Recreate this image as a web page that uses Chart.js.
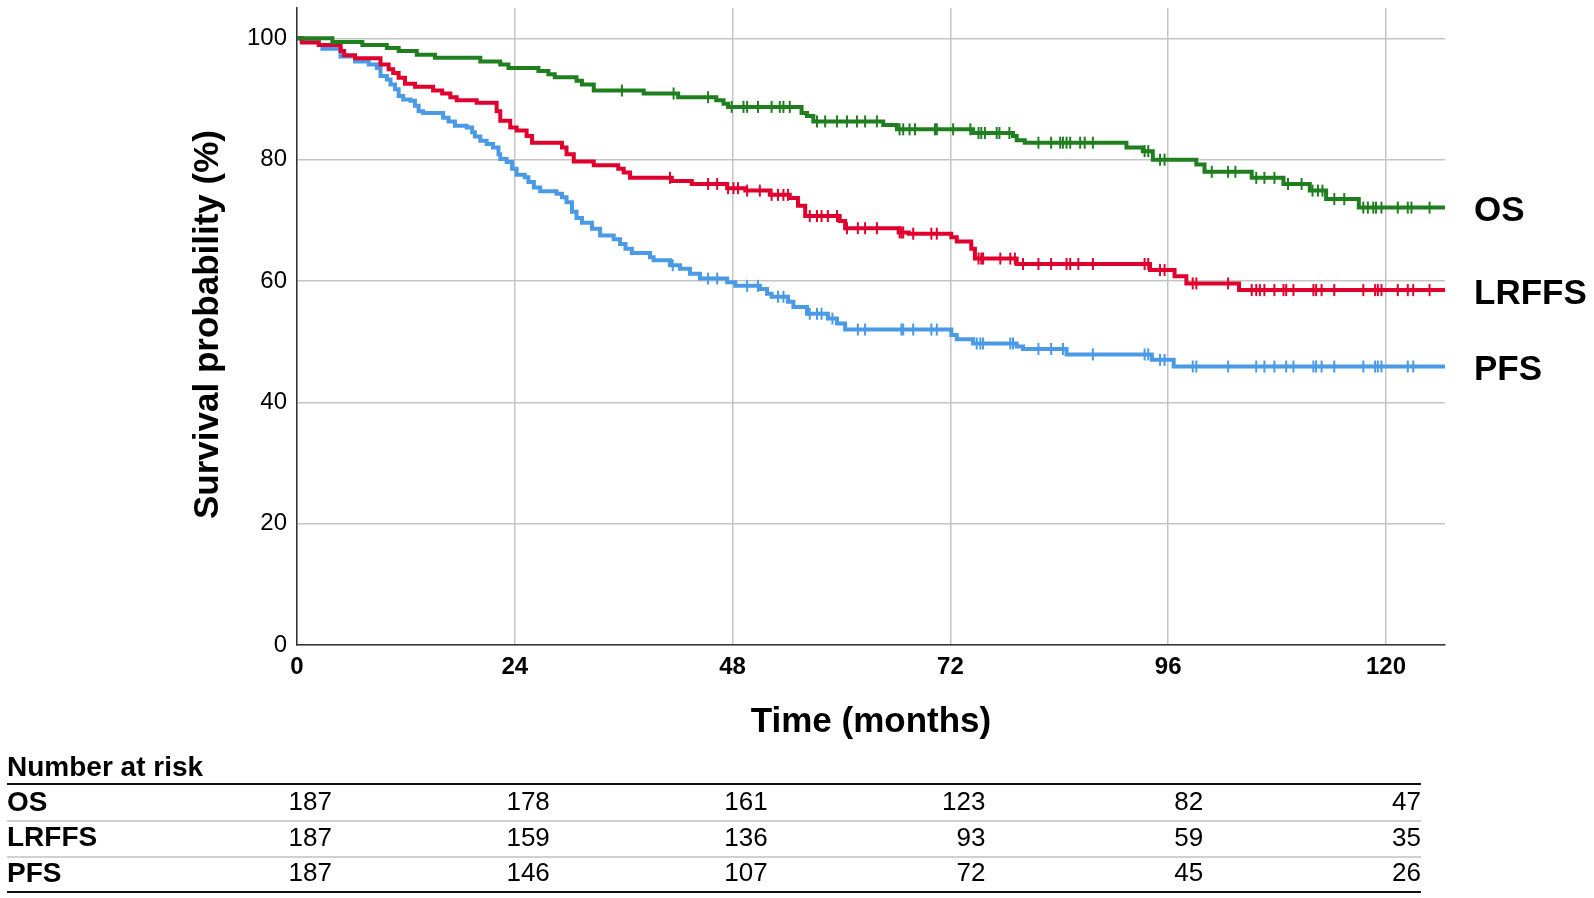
<!DOCTYPE html>
<html>
<head>
<meta charset="utf-8">
<script src="https://cdn.jsdelivr.net/npm/chart.js@4.4.1/dist/chart.umd.min.js"></script>
<style>
  html, body { margin: 0; padding: 0; background: #fff; }
</style>
</head>
<body>
<canvas id="km" width="1594" height="898"></canvas>
<script>
// step points: time (months) and survival (%) after each drop
const osTime = [0, 3.9, 7.2, 9.9, 11.2, 13.2, 15.2, 20.2, 22.4, 23.3, 26.6, 27.7, 28.4, 30.8, 31.4, 32.7, 38.2, 42.0, 46.2, 47.0, 47.5, 55.6, 56.2, 56.9, 64.6, 66.1, 74.5, 78.9, 79.3, 80.2, 91.4, 93.2, 94.3, 99.1, 100.0, 105.2, 108.7, 111.6, 113.4, 117.0, 126.5];
const osSurv = [100, 99.4, 98.9, 98.4, 97.9, 97.3, 96.8, 96.2, 95.7, 95.1, 94.6, 94.1, 93.6, 93.0, 92.4, 91.4, 90.9, 90.3, 89.8, 89.2, 88.7, 87.7, 87.2, 86.3, 85.7, 85.0, 84.4, 83.9, 83.2, 82.8, 82.0, 81.4, 80.0, 79.2, 78.0, 77.0, 76.0, 74.9, 73.5, 72.1, 72.1];
const osCensor = [35.8, 41.5, 45.3, 47.9, 49.2, 49.6, 50.8, 52.3, 53.2, 53.6, 54.3, 57.3, 58.2, 59.5, 60.6, 61.7, 62.6, 63.9, 66.4, 66.8, 67.5, 68.1, 70.3, 70.5, 72.3, 74.2, 75.1, 75.4, 75.8, 77.1, 77.4, 78.5, 81.7, 83.1, 84.1, 84.4, 84.8, 85.2, 86.3, 86.8, 87.7, 93.4, 93.8, 95.1, 95.6, 100.8, 102.6, 103.4, 105.7, 106.6, 107.7, 109.2, 110.7, 111.9, 112.5, 113.0, 114.3, 115.4, 117.5, 118.0, 118.6, 118.9, 119.5, 121.3, 122.4, 122.8, 124.8];

const lrffsTime = [0, 0.55, 2.4, 4.8, 5.2, 6.4, 9.2, 10.1, 10.6, 11.2, 11.9, 13.0, 15.0, 16.0, 16.9, 17.6, 19.8, 22.0, 22.4, 23.5, 24.2, 25.3, 25.9, 29.2, 29.7, 30.5, 32.7, 35.4, 36.0, 36.7, 41.3, 43.5, 47.4, 49.4, 52.1, 54.3, 55.2, 56.0, 59.8, 60.4, 66.3, 67.4, 72.1, 72.7, 74.3, 74.7, 79.3, 94.0, 96.7, 98.0, 103.8, 126.5];
const lrffsSurv = [100, 99.3, 98.9, 97.9, 97.2, 96.7, 95.7, 94.9, 94.3, 93.5, 92.5, 92.0, 91.4, 90.9, 90.3, 89.8, 89.4, 88.0, 86.4, 85.3, 84.8, 83.9, 82.8, 82.0, 80.9, 79.7, 79.1, 78.5, 77.9, 77.0, 76.5, 76.0, 75.3, 74.9, 74.2, 73.7, 72.4, 70.7, 69.9, 68.7, 68.0, 67.8, 67.2, 66.5, 65.3, 63.7, 62.8, 61.8, 60.8, 59.6, 58.5, 58.5];
const lrffsCensor = [41.1, 45.3, 46.3, 47.5, 48.1, 48.6, 49.6, 51.0, 52.3, 53.0, 53.6, 54.1, 56.5, 57.3, 57.8, 58.5, 59.5, 60.6, 61.8, 62.6, 63.9, 66.4, 66.6, 66.8, 67.9, 69.9, 70.5, 75.1, 75.4, 75.6, 77.5, 78.6, 79.1, 80.0, 81.7, 83.1, 84.8, 85.2, 86.1, 87.7, 93.4, 93.8, 95.1, 95.6, 98.7, 99.1, 102.6, 105.2, 105.7, 106.1, 106.6, 107.7, 108.7, 109.0, 109.8, 112.0, 112.3, 112.9, 114.3, 117.5, 118.8, 119.1, 119.5, 121.3, 122.4, 123.0, 124.8];

const pfsTime = [0, 0.5, 2.4, 2.8, 4.8, 6.4, 7.9, 8.8, 9.2, 9.9, 10.3, 10.8, 11.2, 11.7, 12.5, 13.0, 13.4, 13.9, 16.1, 16.7, 17.4, 18.7, 19.3, 19.6, 20.2, 20.9, 21.6, 22.2, 22.4, 23.1, 23.7, 24.2, 25.1, 25.5, 26.1, 26.8, 28.6, 29.2, 29.7, 30.3, 30.8, 31.4, 32.5, 33.4, 34.9, 35.6, 36.2, 36.9, 38.9, 39.3, 41.1, 42.2, 43.3, 44.4, 47.4, 48.3, 51.0, 51.8, 52.3, 54.1, 54.7, 56.2, 58.5, 59.5, 60.4, 72.1, 72.7, 74.5, 79.3, 80.0, 84.8, 94.2, 96.6, 126.5];
const pfsSurv = [100, 99.4, 98.9, 98.3, 97.0, 96.2, 95.7, 95.1, 93.8, 93.2, 92.4, 91.6, 90.5, 89.9, 89.7, 88.9, 88.0, 87.7, 86.9, 86.3, 85.6, 85.3, 84.5, 83.8, 83.1, 82.6, 82.0, 80.9, 80.1, 79.6, 78.5, 77.5, 77.1, 76.3, 75.4, 74.8, 74.4, 73.8, 73.0, 71.4, 70.4, 69.6, 68.6, 67.5, 66.9, 66.1, 65.3, 64.6, 63.9, 63.4, 62.6, 62.0, 61.2, 60.4, 59.8, 59.2, 58.7, 57.9, 57.4, 56.6, 55.7, 54.6, 53.8, 53.0, 52.0, 51.1, 50.4, 49.7, 49.2, 48.8, 47.9, 47.0, 45.9, 45.9];
const pfsCensor = [41.4, 45.3, 46.3, 49.6, 50.8, 53.0, 53.6, 56.5, 57.3, 57.8, 59.0, 61.8, 62.6, 66.6, 66.8, 67.9, 69.9, 70.5, 74.9, 75.3, 75.6, 78.6, 78.9, 81.7, 83.1, 84.4, 87.7, 93.4, 93.8, 95.1, 95.6, 98.7, 99.1, 102.6, 105.7, 106.6, 107.7, 109.0, 109.8, 112.0, 112.3, 112.9, 114.3, 117.5, 118.8, 119.1, 119.5, 122.4, 123.0];

// axes + number at risk table
const xTicks = [0, 24, 48, 72, 96, 120];
const yTicks = [0, 20, 40, 60, 80, 100];
const riskTimes = [0, 24, 48, 72, 96, 120];
const riskOS = [187, 178, 161, 123, 82, 47];
const riskLRFFS = [187, 159, 136, 93, 59, 35];
const riskPFS = [187, 146, 107, 72, 45, 26];

const cGreen = '#1f7f1f';
const cRed = '#e0002d';
const cBlue = '#4a9ae6';
const FONT = '"Liberation Sans", Arial, sans-serif';

function steps(times, surv) {
  let pts = [];
  for (let i = 0; i < times.length; i++) {
    pts.push({ x: times[i], y: surv[i] });
  }
  return pts;
}

// value of the step curve at a censor time
function survAt(times, surv, t) {
  let s = surv[0];
  for (let i = 0; i < times.length; i++) {
    if (times[i] <= t) s = surv[i];
  }
  return s;
}

function censors(list, times, surv) {
  return list.map(t => ({ x: t, y: survAt(times, surv, t) }));
}

function stepSet(label, data, color, order) {
  // 'before' in chart.js = horizontal first, then drop (KM style)
  return {
    label: label, data: data, borderColor: color, borderWidth: 4,
    stepped: 'before', pointRadius: 0, fill: false, order: order
  };
}

function censorSet(label, data, color, order) {
  return {
    label: label, data: data, showLine: false, borderColor: color, backgroundColor: color,
    pointStyle: 'line', rotation: 90, pointRadius: 6, pointBorderWidth: 2, order: order
  };
}

const extras = {
  id: 'extras',
  afterDraw(chart) {
    const ctx = chart.ctx;
    const xs = chart.scales.x;
    const ys = chart.scales.y;
    const area = chart.chartArea;
    ctx.save();
    ctx.fillStyle = '#000';

    // axis titles
    ctx.font = 'bold 35px ' + FONT;
    ctx.textAlign = 'center';
    ctx.textBaseline = 'middle';
    ctx.fillText('Time (months)', (area.left + area.right) / 2, area.bottom + 77);
    ctx.save();
    ctx.translate(208, (area.top + area.bottom) / 2 - 2);
    ctx.rotate(-Math.PI / 2);
    ctx.fillText('Survival probability (%)', 0, 0);
    ctx.restore();

    // curve labels at right
    ctx.textAlign = 'left';
    ctx.fillText('OS', 1474, ys.getPixelForValue(osSurv[osSurv.length - 1]) + 4);
    ctx.fillText('LRFFS', 1474, ys.getPixelForValue(lrffsSurv[lrffsSurv.length - 1]) + 4);
    ctx.fillText('PFS', 1474, ys.getPixelForValue(pfsSurv[pfsSurv.length - 1]) + 4);

    // number at risk
    const tLeft = 7, tRight = 1421;
    ctx.font = 'bold 28px ' + FONT;
    ctx.fillText('Number at risk', tLeft, 768);
    ctx.strokeStyle = '#111';
    ctx.lineWidth = 2;
    ctx.beginPath(); ctx.moveTo(tLeft, 784); ctx.lineTo(tRight, 784); ctx.stroke();
    ctx.beginPath(); ctx.moveTo(tLeft, 892); ctx.lineTo(tRight, 892); ctx.stroke();
    ctx.strokeStyle = '#d0d0d0';
    ctx.beginPath(); ctx.moveTo(tLeft, 821); ctx.lineTo(tRight, 821); ctx.stroke();
    ctx.beginPath(); ctx.moveTo(tLeft, 857); ctx.lineTo(tRight, 857); ctx.stroke();

    const rows = [['OS', riskOS], ['LRFFS', riskLRFFS], ['PFS', riskPFS]];
    for (let r = 0; r < rows.length; r++) {
      let y = 803 + r * 35.5;
      ctx.font = 'bold 28px ' + FONT;
      ctx.textAlign = 'left';
      ctx.fillText(rows[r][0], tLeft, y);
      ctx.font = '26px ' + FONT;
      ctx.textAlign = 'right';
      for (let i = 0; i < riskTimes.length; i++) {
        ctx.fillText(String(rows[r][1][i]), xs.getPixelForValue(riskTimes[i]) + 35, y);
      }
    }
    ctx.restore();
  }
};

new Chart(document.getElementById('km'), {
  type: 'line',
  data: {
    datasets: [
      stepSet('OS', steps(osTime, osSurv), cGreen, 1),
      censorSet('OS censored', censors(osCensor, osTime, osSurv), cGreen, 1),
      stepSet('LRFFS', steps(lrffsTime, lrffsSurv), cRed, 2),
      censorSet('LRFFS censored', censors(lrffsCensor, lrffsTime, lrffsSurv), cRed, 2),
      stepSet('PFS', steps(pfsTime, pfsSurv), cBlue, 3),
      censorSet('PFS censored', censors(pfsCensor, pfsTime, pfsSurv), cBlue, 3)
    ]
  },
  options: {
    responsive: false,
    animation: false,
    devicePixelRatio: 1,
    layout: { padding: { left: 0, top: 4, right: 149, bottom: 219 } },
    plugins: { legend: { display: false }, tooltip: { enabled: false } },
    scales: {
      x: {
        type: 'linear',
        min: 0,
        max: 126.5,
        afterBuildTicks: s => { s.ticks = xTicks.map(v => ({ value: v })); },
        afterFit: s => { s.height = 34; s.paddingLeft = 0; s.paddingRight = 0; },
        grid: { color: '#c4c4c4', lineWidth: 1.5, drawTicks: false },
        border: { color: '#333', width: 1.5 },
        ticks: { color: '#000', font: { family: FONT, size: 24, weight: 'bold' }, padding: 8, maxRotation: 0 }
      },
      y: {
        min: 0,
        max: 105,
        afterBuildTicks: s => { s.ticks = yTicks.map(v => ({ value: v })); },
        afterFit: s => { s.width = 297; s.paddingTop = 0; s.paddingBottom = 0; },
        grid: { color: '#c4c4c4', lineWidth: 1.5, drawTicks: false },
        border: { color: '#333', width: 1.5 },
        ticks: { color: '#000', font: { family: FONT, size: 24 }, padding: 10 }
      }
    }
  },
  plugins: [extras]
});
</script>
</body>
</html>
